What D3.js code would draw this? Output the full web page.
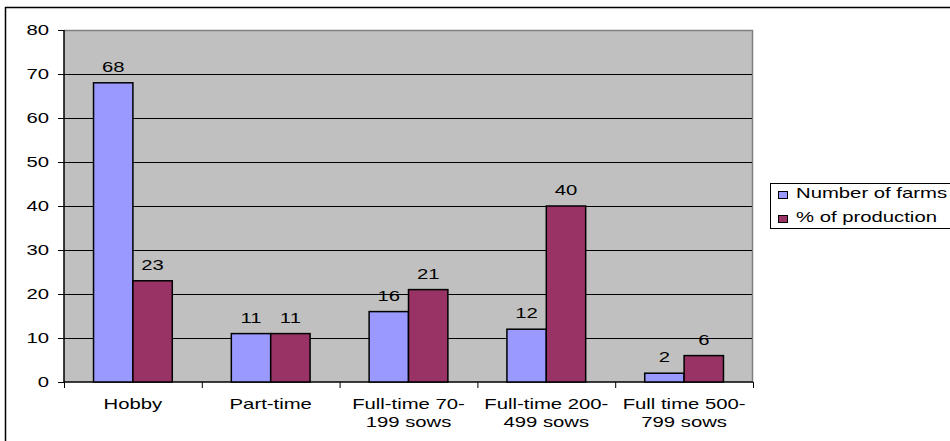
<!DOCTYPE html>
<html><head><meta charset="utf-8">
<script src="https://cdn.jsdelivr.net/npm/d3@7"></script>
<style>body{margin:0;background:#fff}svg{display:block;font-family:"Liberation Sans",Arial,sans-serif}</style>
</head><body><svg id="c" width="950" height="441"></svg>
<script>
const categories = [["Hobby"], ["Part-time"], ["Full-time 70-", "199 sows"], ["Full-time 200-", "499 sows"], ["Full time 500-", "799 sows"]];
const seriesNames = ["Number of farms", "% of production"];
const numberOfFarms = [68, 11, 16, 12, 2];
const pctProduction = [23, 11, 21, 40, 6];
const yTicks = [0, 10, 20, 30, 40, 50, 60, 70, 80];
const colors = ["#9999ff", "#993366"];

const SX = 1.45, FS = 14;
function label(g, x, y, lines, anchor) {
  const t = g.append("text").attr("transform", `translate(${x},${y}) scale(${SX},1)`)
    .attr("text-anchor", anchor).attr("font-size", FS).attr("fill", "#000");
  (Array.isArray(lines) ? lines : [lines]).forEach((s, k) => {
    t.append("tspan").attr("x", 0).attr("dy", k === 0 ? 0 : 18).text(s);
  });
  return t;
}

const svg = d3.select("#c");
const L = 64, R = 753, T = 30, B = 382;
svg.append("path").attr("d", "M5.5,441 L5.5,7.5 L950,7.5").attr("fill", "none").attr("stroke", "#000").attr("stroke-width", 1.5);

const x = d3.scaleBand().domain(d3.range(categories.length)).range([L, R]);
const y = d3.scaleLinear().domain([0, 80]).range([B, T]);

svg.append("rect").attr("x", L).attr("y", T).attr("width", R - L).attr("height", B - T).attr("fill", "#c0c0c0");
svg.append("path").attr("d", `M${L},${T + 0.5} L${R - 0.5},${T + 0.5} L${R - 0.5},${B}`).attr("fill", "none").attr("stroke", "#808080").attr("stroke-width", 1.5);

svg.append("g").selectAll("line").data(yTicks.filter(d => d > 0 && d < 80)).join("line")
  .attr("x1", L).attr("x2", R - 1).attr("y1", d => Math.round(y(d)) + 0.5).attr("y2", d => Math.round(y(d)) + 0.5)
  .attr("stroke", "#000").attr("stroke-width", 1);

const yAxis = d3.axisLeft(y).tickValues(yTicks).tickSize(6).tickFormat("");
const gy = svg.append("g").attr("transform", `translate(${L},0)`).call(yAxis);
gy.select(".domain").attr("stroke", "#000").attr("stroke-width", 1.5).attr("d", `M0,${T}V${B}`);
gy.selectAll(".tick line").attr("stroke", "#000");
const gyl = svg.append("g");
yTicks.forEach(v => label(gyl, 49, y(v) + 5, String(v), "end"));

const xAxis = d3.axisBottom(d3.scaleLinear().domain([0, 5]).range([L, R])).tickValues([0, 1, 2, 3, 4, 5]).tickSize(6).tickFormat("");
const gx = svg.append("g").attr("transform", `translate(0,${B})`).call(xAxis);
gx.select(".domain").attr("stroke", "#000").attr("stroke-width", 1.5).attr("d", `M${L},0H${R}`);
gx.selectAll(".tick line").attr("stroke", "#000");

const bw = x.bandwidth() / 3.5;
const data = [numberOfFarms, pctProduction];
data.forEach((vals, s) => {
  const g = svg.append("g");
  g.selectAll("rect").data(vals).join("rect")
    .attr("x", (d, i) => x(i) + x.bandwidth() / 2 - bw + s * bw)
    .attr("y", d => y(d)).attr("width", bw).attr("height", d => y(0) - y(d))
    .attr("fill", colors[s]).attr("stroke", "#000").attr("stroke-width", 1.5);
  vals.forEach((d, i) => label(g, x(i) + x.bandwidth() / 2 - bw / 2 + s * bw, y(d) - 11, String(d), "middle"));
});

const gc = svg.append("g");
categories.forEach((c, i) => label(gc, x(i) + x.bandwidth() / 2, 409, c, "middle"));

const lg = svg.append("g");
lg.append("rect").attr("x", 770.5).attr("y", 183.5).attr("width", 185).attr("height", 45).attr("fill", "#fff").attr("stroke", "#000");
seriesNames.forEach((n, i) => {
  lg.append("rect").attr("x", 778.5).attr("y", 191.5 + i * 24).attr("width", 9).attr("height", 7).attr("fill", colors[i]).attr("stroke", "#000");
  label(lg, 796, 198 + i * 24, n, "start");
});
</script></body></html>
